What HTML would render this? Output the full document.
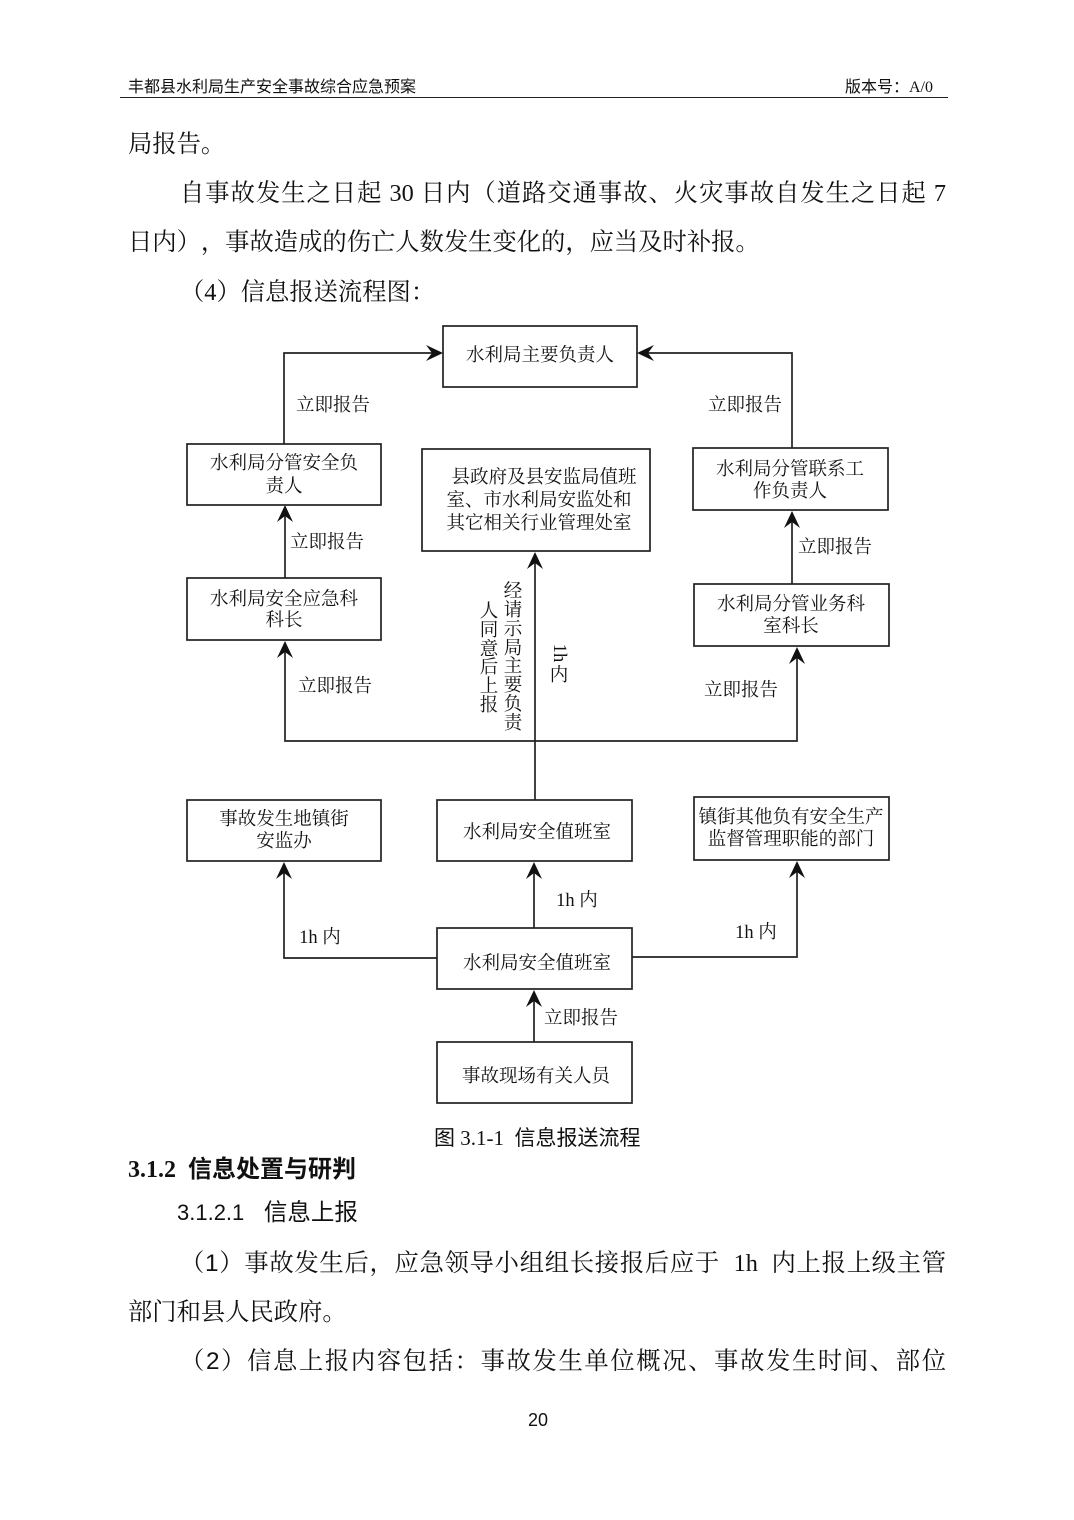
<!DOCTYPE html>
<html lang="zh-CN">
<head>
<meta charset="utf-8">
<style>
  html,body{margin:0;padding:0;background:#fff;}
  body{width:1074px;height:1520px;position:relative;overflow:hidden;color:#111;
       font-family:"Liberation Serif","Noto Serif CJK SC",serif;text-spacing-trim:space-all;}
  .t{position:absolute;white-space:nowrap;height:30px;line-height:30px;font-size:24.3px;}
  .j{position:absolute;height:30px;line-height:30px;font-size:24.3px;text-align:justify;text-align-last:justify;overflow:hidden;}
  .sans{font-family:"Liberation Sans","Noto Sans CJK SC",sans-serif;}
  .hdr{position:absolute;font-size:16px;line-height:20px;height:20px;white-space:nowrap;
       font-family:"Liberation Serif","Noto Sans CJK SC",sans-serif;}
  svg{position:absolute;left:0;top:0;}
</style>
</head>
<body>

<!-- Header -->
<div class="hdr" style="left:128px;top:78px;">丰都县水利局生产安全事故综合应急预案</div>
<div class="hdr" style="left:845px;top:78px;">版本号：A/0</div>
<div style="position:absolute;left:120px;top:97px;width:828px;height:1.3px;background:#222;"></div>

<!-- Body text top -->
<div class="t" style="left:128px;top:130px;">局报告。</div>
<div class="j" style="left:180px;top:179px;width:766px;">自事故发生之日起 30 日内（道路交通事故、火灾事故自发生之日起 7</div>
<div class="t" style="left:128px;top:228px;">日内），事故造成的伤亡人数发生变化的，应当及时补报。</div>
<div class="t" style="left:180px;top:278px;">（4）信息报送流程图：</div>

<!-- Diagram -->
<svg width="1074" height="1520" viewBox="0 0 1074 1520" xmlns="http://www.w3.org/2000/svg">
  <g fill="none" stroke="#222" stroke-width="1.7">
    <rect x="443" y="326" width="194" height="61"/>
    <rect x="187" y="444" width="194" height="61"/>
    <rect x="422" y="449" width="228" height="102"/>
    <rect x="693" y="448" width="195" height="62"/>
    <rect x="187" y="578" width="194" height="62"/>
    <rect x="694" y="584" width="195" height="62"/>
    <rect x="187" y="800" width="194" height="61"/>
    <rect x="437" y="800" width="195" height="61"/>
    <rect x="694" y="797" width="195" height="63"/>
    <rect x="437" y="928" width="195" height="61"/>
    <rect x="437" y="1042" width="195" height="61"/>

    <polyline points="284,444 284,353 432,353"/>
    <polyline points="792,448 792,353 648,353"/>
    <line x1="285" y1="578" x2="285" y2="516"/>
    <line x1="792" y1="584" x2="792" y2="522"/>
    <polyline points="285,652 285,741 797,741 797,658"/>
    <line x1="535" y1="800" x2="535" y2="563"/>
    <line x1="534" y1="928" x2="534" y2="873"/>
    <polyline points="437,958 284,958 284,873"/>
    <polyline points="632,957 797,957 797,872"/>
    <line x1="534" y1="1042" x2="534" y2="1001"/>
  </g>

  <g fill="#111" stroke="none">
    <path d="M443 353 L426 345 L432 353 L426 361 Z"/>
    <path d="M637 353 L654 345 L648 353 L654 361 Z"/>
    <path d="M285 505 L277 522 L285 516 L293 522 Z"/>
    <path d="M792 511 L784 528 L792 522 L800 528 Z"/>
    <path d="M285 641 L277 658 L285 652 L293 658 Z"/>
    <path d="M797 647 L789 664 L797 658 L805 664 Z"/>
    <path d="M535 552 L527 569 L535 563 L543 569 Z"/>
    <path d="M534 862 L526 879 L534 873 L542 879 Z"/>
    <path d="M284 862 L276 879 L284 873 L292 879 Z"/>
    <path d="M797 861 L789 878 L797 872 L805 878 Z"/>
    <path d="M534 990 L526 1007 L534 1001 L542 1007 Z"/>
  </g>

  <g font-family="Liberation Serif, Noto Serif CJK SC, serif" font-size="18.5" fill="#111" text-anchor="middle" dominant-baseline="central">
    <text x="540" y="356">水利局主要负责人</text>
    <text x="284" y="464">水利局分管安全负</text>
    <text x="284" y="487">责人</text>
    <text x="544" y="478">县政府及县安监局值班</text>
    <text x="539" y="501">室、市水利局安监处和</text>
    <text x="539" y="524">其它相关行业管理处室</text>
    <text x="790" y="470">水利局分管联系工</text>
    <text x="790" y="492">作负责人</text>
    <text x="284" y="600">水利局安全应急科</text>
    <text x="284" y="621">科长</text>
    <text x="791" y="605">水利局分管业务科</text>
    <text x="791" y="627">室科长</text>
    <text x="284" y="820">事故发生地镇街</text>
    <text x="284" y="842">安监办</text>
    <text x="537" y="833">水利局安全值班室</text>
    <text x="791" y="818">镇街其他负有安全生产</text>
    <text x="791" y="840">监督管理职能的部门</text>
    <text x="537" y="964">水利局安全值班室</text>
    <text x="536" y="1077">事故现场有关人员</text>

    <text x="333" y="406">立即报告</text>
    <text x="745" y="406">立即报告</text>
    <text x="327" y="543">立即报告</text>
    <text x="835" y="548">立即报告</text>
    <text x="335" y="687">立即报告</text>
    <text x="741" y="691">立即报告</text>
    <text x="581" y="1019">立即报告</text>
    <text x="577" y="901">1h 内</text>
    <text x="320" y="938">1h 内</text>
    <text x="756" y="933">1h 内</text>

    <text x="513" y="592">经</text>
    <text x="513" y="611">请</text>
    <text x="513" y="630">示</text>
    <text x="513" y="649">局</text>
    <text x="513" y="667">主</text>
    <text x="513" y="686">要</text>
    <text x="513" y="705">负</text>
    <text x="513" y="724">责</text>
    <text x="489" y="612">人</text>
    <text x="489" y="631">同</text>
    <text x="489" y="650">意</text>
    <text x="489" y="668">后</text>
    <text x="489" y="687">上</text>
    <text x="489" y="706">报</text>

    <text transform="translate(559,653) rotate(90)">1h</text>
    <text x="559" y="676">内</text>
  </g>
</svg>

<!-- Caption -->
<div style="position:absolute;left:434px;top:1124px;height:26px;line-height:26px;font-size:21px;white-space:nowrap;font-family:'Liberation Serif','Noto Sans CJK SC',sans-serif;"><span style="font-family:'Noto Sans CJK SC',sans-serif;">图</span> 3.1-1&nbsp; <span style="font-family:'Noto Sans CJK SC',sans-serif;">信息报送流程</span></div>

<!-- Heading -->
<div style="position:absolute;left:128px;top:1151px;height:32px;line-height:32px;font-size:24px;font-weight:bold;white-space:nowrap;font-family:'Liberation Serif','Noto Sans CJK SC',sans-serif;"><span style="font-size:24px;">3.1.2</span>&nbsp; <span style="font-family:'Noto Sans CJK SC',sans-serif;">信息处置与研判</span></div>

<div class="t sans" style="left:177px;top:1197px;font-size:23.5px;"><span style="font-size:22px;">3.1.2.1</span>&nbsp;&nbsp; 信息上报</div>

<div class="j" style="left:180px;top:1249px;width:766px;">（<span class="sans">1</span>）事故发生后，应急领导小组组长接报后应于 &nbsp;1h &nbsp;内上报上级主管</div>
<div class="t" style="left:128px;top:1298px;">部门和县人民政府。</div>
<div class="j" style="left:180px;top:1347px;width:766px;">（<span class="sans">2</span>）信息上报内容包括：事故发生单位概况、事故发生时间、部位</div>

<!-- Page number -->
<div class="sans" style="position:absolute;left:0;width:1076px;text-align:center;top:1408px;font-size:18px;line-height:24px;">20</div>

</body>
</html>
